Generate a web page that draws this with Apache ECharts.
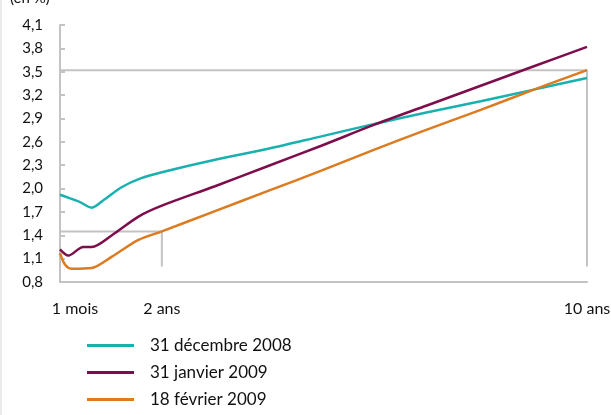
<!DOCTYPE html>
<html>
<head>
<meta charset="utf-8">
<script src="https://cdn.jsdelivr.net/npm/echarts@6/dist/echarts.min.js"></script>
<style>
  html, body { margin: 0; padding: 0; background: #fff; }
  #main { width: 611px; height: 415px; }
</style>
</head>
<body>
<div id="main"></div>
<script>
// maturités en années (1 mois = 1/12)
var maturites = [1 / 12, 0.25, 0.45, 0.68, 0.9, 1.25, 1.6, 2, 3, 4, 5, 6, 7, 8, 9, 10];
var dec2008 = [1.92, 1.88, 1.83, 1.755, 1.85, 2.02, 2.13, 2.21, 2.37, 2.51, 2.67, 2.83, 2.98, 3.12, 3.27, 3.42];

var maturitesJan = [1 / 12, 0.24, 0.52, 0.68, 1.06, 1.56, 2, 3, 4, 5, 6, 7, 8, 9, 10];
var jan2009 = [1.22, 1.14, 1.25, 1.25, 1.40, 1.64, 1.78, 2.03, 2.29, 2.55, 2.82, 3.07, 3.32, 3.57, 3.82];

var maturitesFev = [1 / 12, 0.18, 0.30, 0.68, 1.06, 1.56, 2, 3, 4, 5, 6, 7, 8, 9, 10];
var fev2009 = [1.17, 1.02, 0.97, 0.98, 1.125, 1.34, 1.45, 1.71, 1.97, 2.23, 2.50, 2.76, 3.01, 3.27, 3.52];

var noms = ['31 décembre 2008', '31 janvier 2009', '18 février 2009'];
var couleurs = ['#19b1b0', '#7e0d4b', '#dc7b1f'];

// repères gris : niveau à 2 ans et à 10 ans
var repereX = [2, 10];
var repereY = [1.45, 3.52];
var repereBas = 1.0;

var xLabels = { min: 1 / 12, vals: [1 / 12, 2, 10], txt: ['1 mois', '2 ans', '10 ans'] };

function paires(xs, ys) {
    return xs.map(function (x, i) { return [x, ys[i]]; });
}

var series = [];
repereX.forEach(function (x, i) {
    series.push({
        name: 'repere' + i,
        type: 'line',
        silent: true,
        symbol: 'none',
        z: 1,
        lineStyle: { color: '#c3c3c3', width: 2 },
        data: [[xLabels.min, repereY[i]], [x, repereY[i]], [x, repereBas]]
    });
});
[paires(maturites, dec2008), paires(maturitesJan, jan2009), paires(maturitesFev, fev2009)].forEach(function (d, i) {
    series.push({
        name: noms[i],
        type: 'line',
        smooth: 0.3,
        symbol: 'none',
        z: 3,
        lineStyle: { color: couleurs[i], width: 2.5 },
        itemStyle: { color: couleurs[i] },
        data: d
    });
});

var myChart = echarts.init(document.getElementById('main'));
myChart.setOption({
    animation: false,
    textStyle: { fontFamily: 'Lato' },
    grid: { left: 60, right: 24, top: 25, bottom: 133, outerBoundsMode: 'none' },
    graphic: [
        { type: 'text', left: 10, top: -9, style: { text: '(en %)', fontSize: 15, fill: '#111', fontFamily: 'Lato' } },
        { type: 'line', shape: { x1: 1, y1: 0, x2: 1, y2: 415 }, style: { stroke: '#e4e4e4', lineWidth: 1.5 } }
    ],
    legend: {
        orient: 'vertical',
        left: 82,
        top: 332,
        data: noms,
        icon: 'rect',
        itemWidth: 47,
        itemHeight: 3,
        itemGap: 10,
        textStyle: { fontSize: 17, color: '#111', padding: [0, 0, 0, 11], fontFamily: 'Lato' }
    },
    xAxis: {
        type: 'value',
        min: xLabels.min,
        max: 10,
        axisLine: { lineStyle: { color: '#c3c3c3', width: 2 } },
        axisTick: { show: false },
        splitLine: { show: false },
        axisLabel: {
            customValues: xLabels.vals,
            margin: 19,
            fontSize: 16,
            color: '#111',
            formatter: function (v) {
                var i = xLabels.vals.findIndex(function (x) { return Math.abs(x - v) < 1e-6; });
                if (i === 0) return '{m|' + xLabels.txt[0] + '}';
                return i >= 0 ? xLabels.txt[i] : '';
            },
            rich: { m: { fontSize: 16, color: '#111', fontFamily: 'Lato', padding: [0, 0, 0, 30] } }
        }
    },
    yAxis: {
        type: 'value',
        min: 0.8,
        max: 4.1,
        interval: 0.3,
        axisLine: { show: true, lineStyle: { color: '#c3c3c3', width: 2 } },
        axisTick: { show: true, inside: true, length: 5, lineStyle: { color: '#c3c3c3', width: 2 } },
        splitLine: { show: false },
        axisLabel: {
            margin: 17,
            fontSize: 15,
            color: '#111',
            formatter: function (v) { return v.toFixed(1).replace('.', ','); }
        }
    },
    series: series
});
</script>
</body>
</html>
